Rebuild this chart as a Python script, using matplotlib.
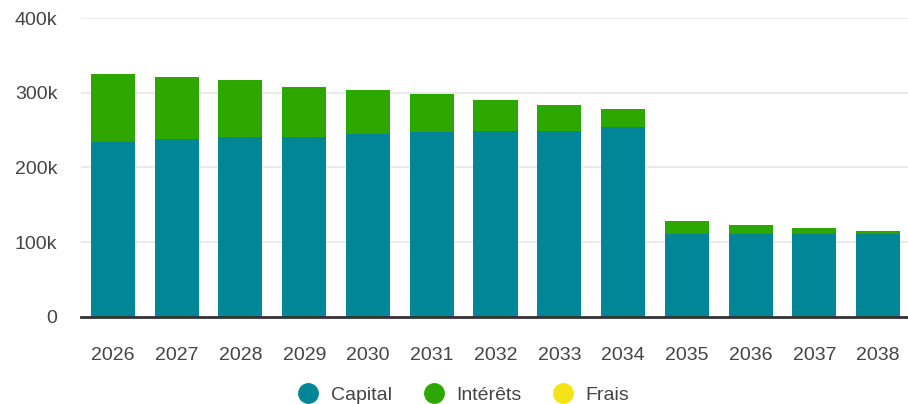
import matplotlib
matplotlib.use("Agg")
import matplotlib.pyplot as plt
from matplotlib.lines import Line2D
import numpy as np

plt.rcParams['font.family'] = ['Liberation Sans', 'DejaVu Sans']

years = ["2026", "2027", "2028", "2029", "2030", "2031", "2032",
         "2033", "2034", "2035", "2036", "2037", "2038"]
capital = [234000, 238000, 241000, 241000, 245000, 247000, 249000,
           249000, 254000, 110500, 110500, 110500, 110500]
interets = [91000, 83000, 76000, 66500, 58500, 52000, 41500,
            35000, 24000, 17500, 13000, 8500, 4500]
frais = [0] * 13

series_names = ["Capital", "Intérêts", "Frais"]
colors = ["#008696", "#2ea600", "#f5e31a"]

fig = plt.figure(figsize=(9.08, 4.04), dpi=100)
ax = fig.add_axes([81 / 908, (404 - 316.7) / 404, (910 - 81) / 908, (316.7 - 18.3) / 404])

x = np.arange(len(years))
w = 0.69
ax.bar(x, capital, width=w, color=colors[0], zorder=3, linewidth=0)
ax.bar(x, interets, width=w, bottom=capital, color=colors[1], zorder=3, linewidth=0)
bot2 = [c + i for c, i in zip(capital, interets)]
ax.bar(x, frais, width=w, bottom=bot2, color=colors[2], zorder=3, linewidth=0)

ax.set_xlim(-0.5, len(years) - 0.5)
ax.set_ylim(0, 400000)
ax.set_yticks([0, 100000, 200000, 300000, 400000])
ax.set_yticklabels(["0", "100k", "200k", "300k", "400k"])
ax.set_xticks(x)
ax.set_xticklabels(years)
ax.grid(axis='y', color='#e6e6e6', linewidth=1.2, zorder=0)
for s in ["top", "right", "left"]:
    ax.spines[s].set_visible(False)
ax.spines["bottom"].set_color("#333333")
ax.spines["bottom"].set_linewidth(2)
ax.spines["bottom"].set_zorder(4)
ax.tick_params(axis='both', length=0, labelsize=14, labelcolor='#444444')
ax.tick_params(axis='x', pad=22)
ax.tick_params(axis='y', pad=17)

handles = [Line2D([0], [0], marker='o', linestyle='', markersize=14,
                  markerfacecolor=c, markeredgecolor=c) for c in colors]
fig.legend(handles, series_names, loc='center', bbox_to_anchor=(0.5 + 9 / 908, (404 - 395) / 404),
           ncol=3, frameon=False, fontsize=14, labelcolor='#444444',
           handletextpad=0.55, columnspacing=1.55, handlelength=1.2)

fig.savefig("out.png", dpi=100)
